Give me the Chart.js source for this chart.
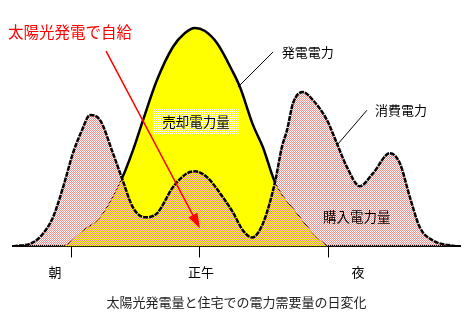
<!DOCTYPE html>
<html>
<head>
<meta charset="utf-8">
<script src="https://cdn.jsdelivr.net/npm/chart.js@4"></script>
<style>
  html, body { margin: 0; padding: 0; background: #fff; }
  canvas { display: block; }
</style>
</head>
<body>
<canvas id="solarChart" width="473" height="326"></canvas>
<script>
// hours of the day and relative power
const genHours = [5.35, 5.72, 6.56, 7.35, 8.37, 8.88, 9.35, 10.0, 10.74, 11.3, 11.77, 12.23, 12.79, 13.49, 13.86, 14.47, 14.93, 15.49, 16.51, 17.35, 17.95]
const genPower = [0, 0.5, 7.3, 13.3, 31.1, 43.9, 57.7, 76.0, 91.1, 97.5, 99.8, 98.4, 92.9, 80.5, 72.8, 55.4, 45.3, 29.3, 15.1, 5.0, 0]

const useHours = [3.3, 4.23, 4.7, 5.16, 5.63, 6.09, 6.51, 6.88, 7.35, 7.95, 8.37, 8.88, 9.44, 10.0, 10.74, 11.4, 11.77, 12.33, 13.07, 13.53, 14.0, 14.42, 14.93, 15.49, 15.81, 16.05, 16.33, 16.79, 17.26, 17.91, 18.37, 18.84, 19.44, 20.05, 20.84, 21.3, 21.77, 22.23, 22.84, 23.95]
const usePower = [0, 1.8, 5.9, 13.3, 27.0, 42.6, 53.1, 60.0, 57.7, 42.6, 31.1, 17.8, 13.3, 15.1, 27.0, 33.4, 34.3, 31.6, 22.4, 15.6, 7.3, 4.1, 10.5, 29.3, 45.3, 53.1, 65.4, 70.5, 66.8, 57.7, 47.1, 36.2, 27.5, 33.4, 42.6, 38.0, 22.4, 8.7, 2.7, 0]

const tickHours = [6, 12, 18]
const tickLabels = ["朝", "正午", "夜"]
const tickLabelHours = [5.26, 12.05, 19.35]

const caption = "太陽光発電量と住宅での電力需要量の日変化"

const FONT = "'Noto Sans CJK JP', 'Noto Sans CJK SC', sans-serif"
Chart.defaults.font.family = FONT

// 2x2 checker patterns like the old dithered GIF
function checker(colorA, colorB) {
  const c = document.createElement("canvas")
  c.width = 2
  c.height = 2
  const g = c.getContext("2d")
  if (colorB) {
    g.fillStyle = colorB
    g.fillRect(0, 0, 2, 2)
  }
  g.fillStyle = colorA
  g.fillRect(0, 0, 1, 1)
  g.fillRect(1, 1, 1, 1)
  return g.createPattern(c, "repeat")
}
const pinkHatch = checker("#ff8a8a")
const yellowWhite = checker("#ffff00", "#ffffff")

// consumption at a given hour (linear between read points)
function useAt(h) {
  for (let i = 1; i < useHours.length; i++) {
    if (h <= useHours[i]) {
      const t = (h - useHours[i - 1]) / (useHours[i] - useHours[i - 1])
      return usePower[i - 1] + t * (usePower[i] - usePower[i - 1])
    }
  }
  return 0
}

// text and arrows, positioned in data units
const notes = {
  selfUse: { text: "太陽光発電で自給", h: 5.95, v: 97.9 },
  arrowFrom: { h: 7.63, v: 89.2 },
  arrowTo: { h: 12.0, v: 8.2 },
  sold: { text: "売却電力量", h: 11.81, v: 56.8 },
  bought: { text: "購入電力量", h: 19.3, v: 13.3 },
  gen: { text: "発電電力", h: 17.02, v: 88.8, from: [15.4, 88.8], to: [13.77, 72.8] },
  use: { text: "消費電力", h: 21.35, v: 62.2, from: [19.77, 62.2], to: [18.37, 46.2] },
}

const notesPlugin = {
  id: "notes",
  afterDatasetsDraw(chart) {
    const ctx = chart.ctx
    const xs = chart.scales.x
    const ys = chart.scales.y
    const px = h => xs.getPixelForValue(h)
    const py = v => ys.getPixelForValue(v)
    ctx.save()
    ctx.textAlign = "center"
    ctx.textBaseline = "middle"

    // sold label with checker box
    ctx.font = "13.5px " + FONT
    const sw = ctx.measureText(notes.sold.text).width
    ctx.fillStyle = yellowWhite
    ctx.fillRect(px(notes.sold.h) - sw / 2 - 9, py(notes.sold.v) - 13, sw + 18, 25)
    ctx.fillStyle = "#000"
    ctx.fillText(notes.sold.text, px(notes.sold.h), py(notes.sold.v))
    ctx.fillText(notes.bought.text, px(notes.bought.h), py(notes.bought.v))

    // leader lines
    ctx.font = "13px " + FONT
    ctx.strokeStyle = "#000"
    ctx.lineWidth = 1
    ;[notes.gen, notes.use].forEach(n => {
      ctx.fillText(n.text, px(n.h), py(n.v))
      ctx.beginPath()
      ctx.moveTo(px(n.from[0]), py(n.from[1]))
      ctx.lineTo(px(n.to[0]), py(n.to[1]))
      ctx.stroke()
    })

    // red self-consumption note and arrow
    ctx.fillStyle = "#ff0000"
    ctx.strokeStyle = "#ff0000"
    ctx.font = "15.5px " + FONT
    ctx.fillText(notes.selfUse.text, px(notes.selfUse.h), py(notes.selfUse.v))
    const x0 = px(notes.arrowFrom.h), y0 = py(notes.arrowFrom.v)
    const x1 = px(notes.arrowTo.h), y1 = py(notes.arrowTo.v)
    const a = Math.atan2(y1 - y0, x1 - x0)
    ctx.lineWidth = 1.5
    ctx.beginPath()
    ctx.moveTo(x0, y0)
    ctx.lineTo(x1 - 10 * Math.cos(a), y1 - 10 * Math.sin(a))
    ctx.stroke()
    ctx.beginPath()
    ctx.moveTo(x1, y1)
    ctx.lineTo(x1 - 15 * Math.cos(a) + 5 * Math.sin(a), y1 - 15 * Math.sin(a) - 5 * Math.cos(a))
    ctx.lineTo(x1 - 15 * Math.cos(a) - 5 * Math.sin(a), y1 - 15 * Math.sin(a) + 5 * Math.cos(a))
    ctx.closePath()
    ctx.fill()
    ctx.restore()
  },
}

new Chart(document.getElementById("solarChart"), {
  type: "line",
  data: {
    datasets: [
      {
        label: "消費電力",
        data: useHours.map((h, i) => ({ x: h, y: usePower[i] })),
        borderColor: "#000",
        borderWidth: 2.5,
        borderDash: [5, 1],
        backgroundColor: pinkHatch,
        fill: "origin",
        pointRadius: 0,
        cubicInterpolationMode: "monotone",
      },
      {
        label: "発電電力",
        data: genHours.map((h, i) => ({ x: h, y: genPower[i] })),
        borderColor: "#000",
        borderWidth: 2.5,
        backgroundColor: "#ffff00",
        fill: "origin",
        pointRadius: 0,
        cubicInterpolationMode: "monotone",
        segment: {
          borderWidth: c => {
            const mid = (c.p0.parsed.x + c.p1.parsed.x) / 2
            const g = (c.p0.parsed.y + c.p1.parsed.y) / 2
            return g > useAt(mid) ? 2.5 : 1
          },
        },
      },
    ],
  },
  options: {
    responsive: false,
    animation: false,
    devicePixelRatio: 1,
    layout: { padding: { left: 13, right: 13, top: 10, bottom: 16 } },
    plugins: {
      legend: { display: false },
      tooltip: { enabled: false },
      title: {
        display: true,
        position: "bottom",
        text: caption,
        color: "#222",
        font: { size: 13, weight: "normal" },
        padding: { top: 7, bottom: 0 },
      },
    },
    scales: {
      y: { display: false, min: 0, max: 108 },
      x: {
        type: "linear",
        position: "bottom",
        min: 3.3,
        max: 24.1,
        border: { display: true, color: "#000", width: 2 },
        grid: { drawOnChartArea: false, tickLength: 11, color: "#000", lineWidth: 1 },
        ticks: { display: false },
        afterBuildTicks: s => { s.ticks = tickHours.map(v => ({ value: v })) },
        afterFit: s => { s.height = 11 },
      },
      x2: {
        type: "linear",
        position: "bottom",
        min: 3.3,
        max: 24.1,
        border: { display: false },
        grid: { display: false, drawTicks: false },
        ticks: {
          color: "#000",
          font: { size: 13 },
          padding: 7,
          maxRotation: 0,
          autoSkip: false,
          callback: v => tickLabels[tickLabelHours.indexOf(v)],
        },
        afterBuildTicks: s => { s.ticks = tickLabelHours.map(v => ({ value: v })) },
        afterFit: s => { s.height = 30 },
      },
    },
  },
  plugins: [notesPlugin],
})
</script>
</body>
</html>
